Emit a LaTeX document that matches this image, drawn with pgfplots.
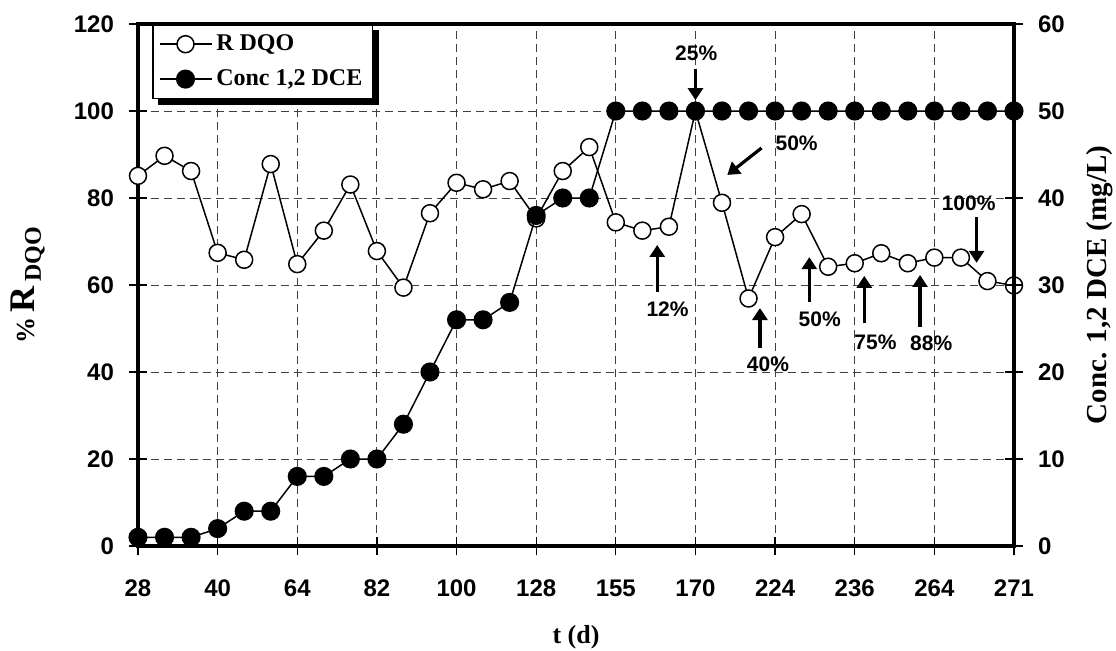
\documentclass[border=0pt]{standalone}
\usepackage{fontspec}
\setmainfont{Liberation Serif}
\newfontfamily\arial{Liberation Sans}
\usepackage{pgfplots}
\usepackage{pgfplotstable}
\pgfplotsset{compat=1.18}
\usetikzlibrary{arrows.meta}

\pgfplotstableread{
k v
0 85.1
1 89.7
2 86.2
3 67.4
4 65.8
5 87.8
6 64.8
7 72.5
8 83.1
9 67.8
10 59.4
11 76.5
12 83.5
13 82.0
14 83.9
15 75.3
16 86.2
17 91.7
18 74.4
19 72.5
20 73.4
21 100
22 78.9
23 56.9
24 71.0
25 76.3
26 64.2
27 65.0
28 67.3
29 65.0
30 66.3
31 66.3
32 60.9
33 59.9
}\rdqo

\pgfplotstableread{
k v
0 1
1 1
2 1
3 2
4 4
5 4
6 8
7 8
8 10
9 10
10 14
11 20
12 26
13 26
14 28
15 38
16 40
17 40
18 50
19 50
20 50
21 50
22 50
23 50
24 50
25 50
26 50
27 50
28 50
29 50
30 50
31 50
32 50
33 50
}\dce

\tikzset{
  openser/.style={black, line width=0.75pt, mark=*, mark size=4.25pt,
    mark options={fill=white, draw=black, line width=0.75pt, solid}},
  fillser/.style={black, line width=0.75pt, mark=*, mark size=4.4pt,
    mark options={fill=black, draw=black, solid}},
  annot/.style={font=\arial\bfseries\fontsize{10.5}{12}\selectfont, inner sep=0pt},
  arr/.style={line width=1.6pt, -{Triangle[length=6pt,width=7.5pt]}}
}

\pgfplotsset{
  common/.style={
    at={(0,0)}, anchor=south west, scale only axis,
    width=438pt, height=261pt,
    xmin=0, xmax=11,
    axis line style={line width=1.8pt},
    tick style={black, line width=0.6pt},
    tick align=center, major tick length=9pt,
    ticklabel style={font=\arial\bfseries\fontsize{12}{12}\selectfont},
    /pgf/number format/assume math mode=true,
    legend image code/.code={\draw[mark repeat=2,mark phase=2] plot coordinates {(0pt,0pt)(13pt,0pt)(26pt,0pt)};},
  }
}

\begin{document}
\begin{tikzpicture}
\begin{axis}[common,
  ymin=0, ymax=120,
  xtick={0,...,11},
  xticklabels={28,40,64,82,100,128,155,170,224,236,264,271},
  xtick pos=bottom, ytick pos=left,
  ytick={0,20,...,120},
  grid=major,
  major grid style={black!75, line width=0.5pt, dash pattern=on 4pt off 2.5pt},
  xticklabel style={anchor=north, yshift=-9pt},
  yticklabel style={anchor=east, xshift=-4pt},
  xlabel={t (d)},
  xlabel style={at={(axis description cs:0.5,-0.1743)}, anchor=center, font=\bfseries\fontsize{13}{13}\selectfont},
  ylabel={{\fontsize{13}{13}\selectfont\%} {\fontsize{18}{18}\selectfont R} {\fontsize{12}{12}\selectfont\raisebox{-3pt}{DQO}}},
  ylabel style={at={(axis description cs:-0.1256,0.5)}, anchor=center, font=\bfseries},
]
\addplot[openser] table[x expr=\thisrow{k}/3, y=v] {\rdqo};

\node[annot] at (axis cs:7.01,113.3) {25\%};
\draw[arr] (axis cs:7.0,109.7) -- (axis cs:7.0,102.5);
\node[annot] at (axis cs:8.27,92.6) {50\%};
\draw[arr] (axis cs:7.83,91.5) -- (axis cs:7.40,85.3);
\node[annot] at (axis cs:6.65,54.5) {12\%};
\draw[arr] (axis cs:6.52,58.4) -- (axis cs:6.52,69.2);
\node[annot] at (axis cs:7.91,41.8) {40\%};
\draw[arr] (axis cs:7.81,45.5) -- (axis cs:7.81,54.7);
\node[annot] at (axis cs:8.56,52.2) {50\%};
\draw[arr] (axis cs:8.43,56.1) -- (axis cs:8.43,66.4);
\node[annot] at (axis cs:9.26,46.9) {75\%};
\draw[arr] (axis cs:9.12,51.3) -- (axis cs:9.12,62.1);
\node[annot] at (axis cs:9.96,46.7) {88\%};
\draw[arr] (axis cs:9.82,50.3) -- (axis cs:9.82,62.3);
\node[annot] at (axis cs:10.43,78.9) {100\%};
\draw[arr] (axis cs:10.53,75.6) -- (axis cs:10.53,65.1);
\end{axis}

\begin{axis}[common,
  ymin=0, ymax=60,
  axis x line=none,
  axis y line*=right,
  ytick={0,10,...,60},
  yticklabel style={anchor=west, xshift=4pt},
  ylabel={Conc. 1,2 DCE (mg/L)},
  ylabel style={at={(axis description cs:1.098,0.5)}, anchor=center, rotate=0, font=\bfseries\fontsize{14.5}{15}\selectfont},
  legend style={name=leg, at={(0.016,1)}, anchor=north west, draw=black, line width=0.75pt,
    fill=white, font=\bfseries\fontsize{12}{14}\selectfont,
    inner xsep=3pt, inner ysep=3pt, row sep=4pt},
  legend cell align=left,
]
\addlegendimage{openser}
\addlegendentry{R DQO}
\addplot[fillser] table[x expr=\thisrow{k}/3, y=v] {\dce};
\addlegendentry{Conc 1,2 DCE}
\end{axis}
\fill[black] ([yshift=-2.8pt]leg.north east) rectangle ([xshift=2.8pt,yshift=-2.8pt]leg.south east);
\fill[black] ([xshift=2.8pt]leg.south west) rectangle ([xshift=2.8pt,yshift=-2.8pt]leg.south east);
\pgfresetboundingbox
\path[use as bounding box] (-69pt,-52pt) rectangle (489pt,273pt);
\end{tikzpicture}
\end{document}
